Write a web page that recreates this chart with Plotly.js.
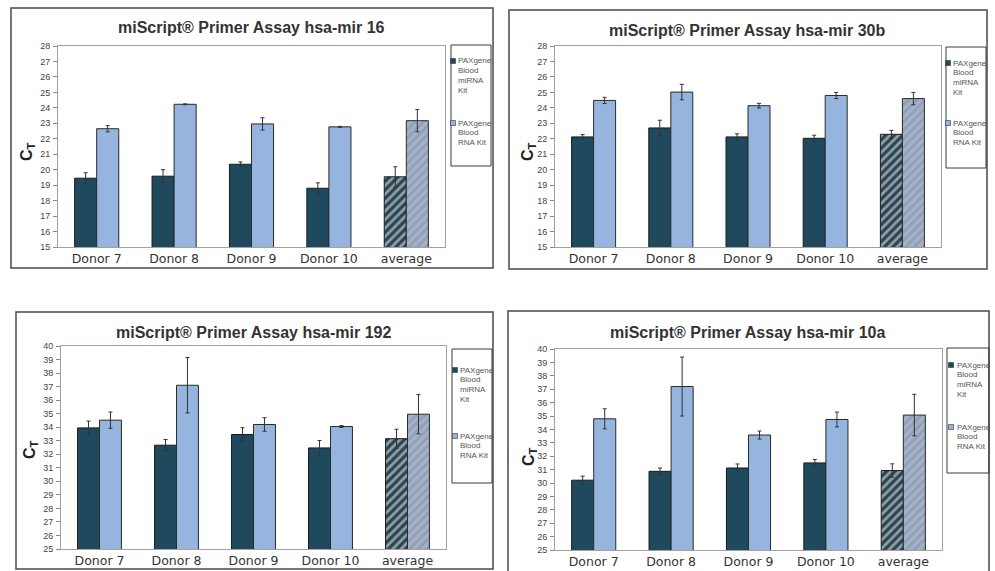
<!DOCTYPE html>
<html>
<head>
<meta charset="utf-8">
<script src="https://cdn.plot.ly/plotly-3.0.1.min.js"></script>
<style>html,body{margin:0;padding:0;background:#fff;}#chart{width:995px;height:571px;}</style>
</head>
<body>
<div id="chart"></div>
<script>
// ---------- DATA ----------
const categories = ['Donor 7', 'Donor 8', 'Donor 9', 'Donor 10', 'average'];
const seriesNames = ['PAXgene Blood miRNA Kit', 'PAXgene Blood RNA Kit'];
const legendLines = [['PAXgene', 'Blood', 'miRNA', 'Kit'], ['PAXgene', 'Blood', 'RNA Kit']];
const titles = [
  'miScript® Primer Assay hsa-mir 16',
  'miScript® Primer Assay hsa-mir 30b',
  'miScript® Primer Assay hsa-mir 192',
  'miScript® Primer Assay hsa-mir 10a'
];

const mir16_miRNA = [19.45, 19.58, 20.35, 18.8, 19.54];
const mir16_miRNA_err = [0.35, 0.42, 0.15, 0.35, 0.65];
const mir16_RNA = [22.65, 24.23, 22.96, 22.77, 23.17];
const mir16_RNA_err = [0.2, 0.03, 0.4, 0.03, 0.72];

const mir30b_miRNA = [22.12, 22.7, 22.12, 22.03, 22.29];
const mir30b_miRNA_err = [0.15, 0.5, 0.2, 0.2, 0.25];
const mir30b_RNA = [24.48, 25.02, 24.14, 24.8, 24.6];
const mir30b_RNA_err = [0.2, 0.5, 0.15, 0.2, 0.4];

const mir192_miRNA = [33.95, 32.67, 33.46, 32.47, 33.15];
const mir192_miRNA_err = [0.5, 0.42, 0.5, 0.55, 0.7];
const mir192_RNA = [34.52, 37.1, 34.2, 34.05, 34.96];
const mir192_RNA_err = [0.6, 2.05, 0.5, 0.07, 1.45];

const mir10a_miRNA = [30.21, 30.87, 31.12, 31.5, 30.93];
const mir10a_miRNA_err = [0.3, 0.25, 0.3, 0.25, 0.5];
const mir10a_RNA = [34.79, 37.2, 33.58, 34.74, 35.07];
const mir10a_RNA_err = [0.75, 2.2, 0.3, 0.55, 1.55];

const yRanges = [[15, 28], [15, 28], [25, 40], [25, 40]];

// ---------- STYLE / LAYOUT ----------
const W = 995, H = 571;
const px = x => x / W;
const py = y => 1 - y / H;

const darkColor = '#1f4a5e';
const lightColor = '#95b4de';
const hatchColor = '#a19c9a';

const panels = [
  {miRNA: mir16_miRNA, miRNAerr: mir16_miRNA_err, RNA: mir16_RNA, RNAerr: mir16_RNA_err,
   plot: [58, 445, 46, 247], box: [11, 493, 8, 268], legend: [451, 491, 45, 166],
   sq: [[453, 61], [453, 123]], tx: 456, title: [252, 28], ct: [28, 152]},
  {miRNA: mir30b_miRNA, miRNAerr: mir30b_miRNA_err, RNA: mir30b_RNA, RNAerr: mir30b_RNA_err,
   plot: [555, 941, 46, 247], box: [509, 987, 10, 269], legend: [946, 986, 47, 168],
   sq: [[948, 63], [948, 123]], tx: 951, title: [747, 30], ct: [529, 152]},
  {miRNA: mir192_miRNA, miRNAerr: mir192_miRNA_err, RNA: mir192_RNA, RNAerr: mir192_RNA_err,
   plot: [61, 446, 346, 549], box: [16, 493, 312, 569], legend: [452, 492, 349, 483],
   sq: [[455, 370], [455, 436]], tx: 458, title: [254, 332], ct: [30, 450]},
  {miRNA: mir10a_miRNA, miRNAerr: mir10a_miRNA_err, RNA: mir10a_RNA, RNAerr: mir10a_RNA_err,
   plot: [555, 942, 349, 550], box: [508, 989, 311, 572], legend: [947, 989, 348, 473],
   sq: [[951, 365], [951, 427]], tx: 955, title: [747, 332], ct: [529, 457]}
];

const traces = [];
const layout = {
  width: W, height: H,
  margin: {l: 0, r: 0, t: 0, b: 0},
  paper_bgcolor: '#ffffff',
  plot_bgcolor: '#ffffff',
  showlegend: false,
  barmode: 'group',
  bargap: 0.43,
  bargroupgap: 0,
  font: {family: 'Liberation Sans, Arial, sans-serif', color: '#333'},
  shapes: [],
  annotations: []
};

panels.forEach((p, i) => {
  const n = i === 0 ? '' : String(i + 1);
  const xa = 'x' + n, ya = 'y' + n;
  const patShapes = categories.map(c => c === 'average' ? '/' : '');
  const mk = (vals, errs, color, lineColor, name) => ({
    type: 'bar', x: categories, y: vals, name: name,
    xaxis: xa, yaxis: ya,
    marker: {color: color, line: {color: lineColor, width: 1},
             pattern: {shape: patShapes, fgcolor: hatchColor, bgcolor: color,
                       size: 6, solidity: 0.45, fillmode: 'replace'}},
    error_y: {type: 'data', array: errs, visible: true, color: '#333', thickness: 1, width: 2}
  });
  traces.push(mk(p.miRNA, p.miRNAerr, darkColor, '#1a1a1a', seriesNames[0]));
  traces.push(mk(p.RNA, p.RNAerr, lightColor, '#2a2a2a', seriesNames[1]));

  layout['xaxis' + n] = {
    domain: [px(p.plot[0]), px(p.plot[1])], anchor: ya,
    showline: true, mirror: true, linecolor: '#a89e9e', linewidth: 1,
    ticks: '', showgrid: false, fixedrange: true,
    tickfont: {family: 'DejaVu Sans, sans-serif', size: 12.5, color: '#333'}
  };
  layout['yaxis' + n] = {
    domain: [py(p.plot[3]), py(p.plot[2])], anchor: xa,
    range: yRanges[i], dtick: 1, tick0: 0,
    showline: true, mirror: true, linecolor: '#a89e9e', linewidth: 1,
    ticks: 'outside', ticklen: 4, tickcolor: '#888', showgrid: false, zeroline: false,
    fixedrange: true, ticklabelstandoff: 1,
    tickfont: {family: 'Liberation Sans, Arial, sans-serif', size: 9, color: '#444'}
  };

  // panel frame
  layout.shapes.push({type: 'rect', xref: 'paper', yref: 'paper',
    x0: px(p.box[0]), x1: px(p.box[1]), y0: py(p.box[3]), y1: py(p.box[2]),
    line: {color: '#4a4a4a', width: 1.5}, fillcolor: 'rgba(0,0,0,0)', layer: 'below'});
  // legend frame
  layout.shapes.push({type: 'rect', xref: 'paper', yref: 'paper',
    x0: px(p.legend[0]), x1: px(p.legend[1]), y0: py(p.legend[3]), y1: py(p.legend[2]),
    line: {color: '#3a3a3a', width: 1}, fillcolor: 'rgba(0,0,0,0)'});
  // legend swatches + labels (one annotation per line)
  [darkColor, lightColor].forEach((c, k) => {
    const [sx, sy] = p.sq[k];
    layout.shapes.push({type: 'rect', xref: 'paper', yref: 'paper',
      x0: px(sx - 2.5), x1: px(sx + 2.5), y0: py(sy + 2.5), y1: py(sy - 2.5),
      line: {color: '#333', width: 0.6}, fillcolor: c});
    legendLines[k].forEach((line, j) => {
      layout.annotations.push({xref: 'paper', yref: 'paper', x: px(p.tx), y: py(sy + j * 9.8),
        xanchor: 'left', yanchor: 'middle', align: 'left', showarrow: false,
        text: line, font: {family: 'Liberation Sans, Arial, sans-serif', size: 8, color: '#555'}});
    });
  });
  // title
  layout.annotations.push({xref: 'paper', yref: 'paper', x: px(p.title[0]), y: py(p.title[1]),
    xanchor: 'center', yanchor: 'middle', showarrow: false,
    text: '<b>' + titles[i] + '</b>',
    font: {family: 'Liberation Sans, Arial, sans-serif', size: 16, color: '#333'}});
  // y-axis title
  layout.annotations.push({xref: 'paper', yref: 'paper', x: px(p.ct[0]), y: py(p.ct[1]),
    xanchor: 'center', yanchor: 'middle', showarrow: false, textangle: -90,
    text: '<b>C<sub>T</sub></b>',
    font: {family: 'Liberation Sans, Arial, sans-serif', size: 16, color: '#222'}});
});

Plotly.newPlot('chart', traces, layout, {staticPlot: true, displayModeBar: false});
</script>
</body>
</html>
